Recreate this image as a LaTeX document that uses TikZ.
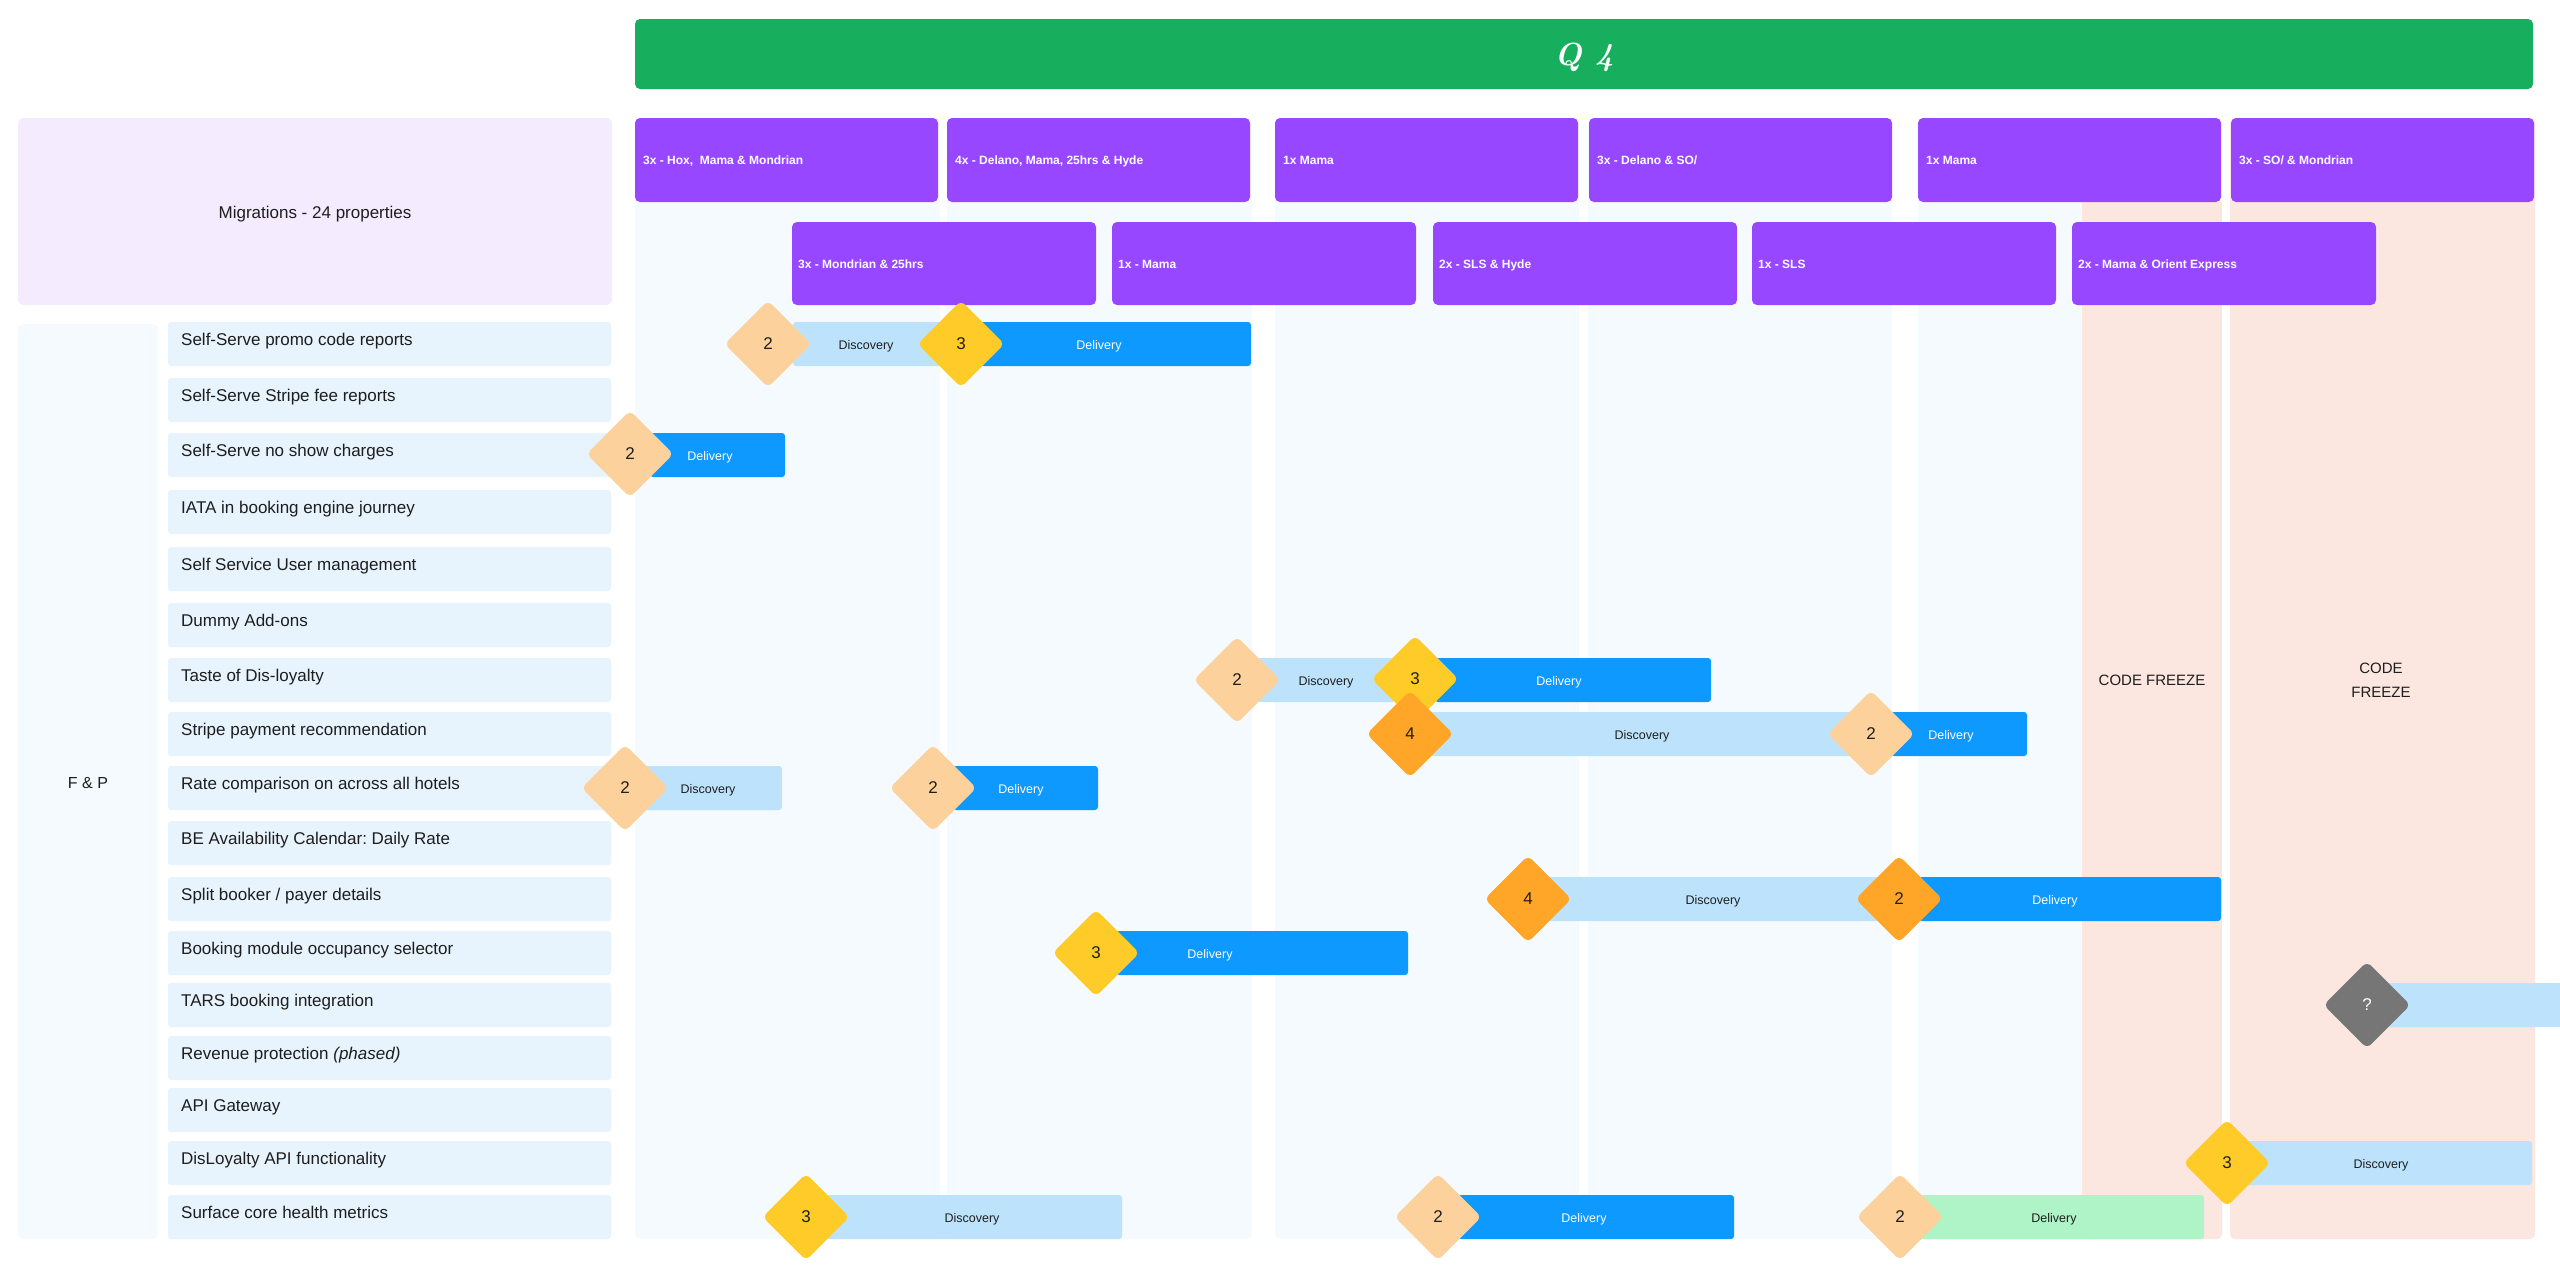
\documentclass[tikz,border=0pt]{standalone}
\usepackage{fontspec}
\setsansfont{Liberation Sans}
\usetikzlibrary{shapes.geometric}
\frenchspacing

\definecolor{qgreen}{HTML}{17AF5E}
\definecolor{hotel}{HTML}{9747FF}
\definecolor{lavender}{HTML}{F4EBFE}
\definecolor{rowblue}{HTML}{E7F3FD}
\definecolor{bandblue}{HTML}{F5FAFE}
\definecolor{freeze}{HTML}{FCE6E0}
\definecolor{discblue}{HTML}{BDE3FC}
\definecolor{delblue}{HTML}{0D99FF}
\definecolor{delgreen}{HTML}{AFF4C6}
\definecolor{peach}{HTML}{FCD19C}
\definecolor{gold}{HTML}{FFCB29}
\definecolor{amber}{HTML}{FFA629}
\definecolor{slate}{HTML}{767676}
\definecolor{ink}{HTML}{1E1E1E}

\tikzset{
  hotelbox/.style={fill=hotel, rounded corners=5pt},
  hoteltxt/.style={anchor=base west, text=white, font=\sffamily\bfseries\fontsize{12}{14}\selectfont},
  rowbox/.style={fill=rowblue, rounded corners=3pt, minimum width=443pt, minimum height=44pt},
  rowtxt/.style={anchor=base west, text=ink, font=\sffamily\fontsize{17}{20}\selectfont},
  bigtxt/.style={anchor=base, text=ink, font=\sffamily\fontsize{17}{20}\selectfont},
  disc/.style={fill=discblue, rounded corners=3pt},
  del/.style={fill=delblue, rounded corners=3pt},
  delg/.style={fill=delgreen, rounded corners=3pt},
  barlbl/.style={anchor=base, font=\sffamily\fontsize{12.5}{14}\selectfont},
  disclbl/.style={barlbl, text=ink},
  dellbl/.style={barlbl, text=white},
  delglbl/.style={barlbl, text=ink},
  ms/.style={diamond, aspect=1, minimum width=87pt, minimum height=87pt,
    rounded corners=6pt, text=ink, font=\sffamily\fontsize{17}{17}\selectfont},
}

% style, x from, x to, row top, text x, text
\newcommand{\ganttphase}[6]{%
  \fill[#1] (#2,#4) rectangle (#3,#4+44);
  \node[#1lbl] (#1-#4-#5) at (#5,#4+27) {#6};
}

\begin{document}
\begin{tikzpicture}[x=1pt,y=-1pt]
\tikzstyle{every node}+=[inner sep=0pt]
\useasboundingbox (0,0) rectangle (2560,1277);
\fill[white] (0,0) rectangle (2560,1277);

% sprint columns
\foreach \xa/\xb in {635/940, 947/1252, 1275/1579, 1588/1892, 1918/2222}
  \fill[bandblue, rounded corners=5pt] (\xa,118) rectangle (\xb,1239);
\fill[freeze] (2082,202) rectangle (2222,1234);
\fill[freeze, rounded corners=5pt] (2082,1200) rectangle (2222,1239);
\fill[freeze, rounded corners=5pt] (2230,118) rectangle (2535,1239);
\node[bigtxt, font=\sffamily\fontsize{15}{18}\selectfont] (cf1) at (2152,685) {CODE FREEZE};
\node[bigtxt, font=\sffamily\fontsize{15}{18}\selectfont] (cf2a) at (2381,673) {CODE};
\node[bigtxt, font=\sffamily\fontsize{15}{18}\selectfont] (cf2b) at (2381,697) {FREEZE};

% quarter header
\fill[qgreen, rounded corners=5pt] (635,19) rectangle (2533,89);
\node[anchor=base, text=white, font=\rmfamily\bfseries\itshape\fontsize{32}{32}\selectfont] (q4) at (1584,65) {Q 4};

% migrations
\fill[lavender, rounded corners=6pt] (18,118) rectangle (612,305);
\node[bigtxt] (mig) at (315,218) {Migrations - 24 properties};
\foreach \xa/\txt [count=\i] in {635/{3x - Hox,~ Mama \& Mondrian}, 947/{4x - Delano, Mama, 25hrs \& Hyde},
    1275/{1x Mama}, 1589/{3x - Delano \& SO/}, 1918/{1x Mama}, 2231/{3x - SO/ \& Mondrian}} {
  \fill[hotelbox] (\xa,118) rectangle (\xa+303,202);
  \node[hoteltxt] (wave\i) at (\xa+8,164) {\txt};
}
\foreach \xa/\txt [count=\i] in {792/{3x - Mondrian \& 25hrs}, 1112/{1x - Mama}, 1433/{2x - SLS \& Hyde},
    1752/{1x - SLS}, 2072/{2x - Mama \& Orient Express}} {
  \fill[hotelbox] (\xa,222) rectangle (\xa+304,305);
  \node[hoteltxt] (wavetwo\i) at (\xa+6,268) {\txt};
}

% team and initiatives
\fill[bandblue, rounded corners=6pt] (18,324) rectangle (158,1239);
\node[bigtxt, font=\sffamily\fontsize{16}{18}\selectfont] (team) at (88,788) {F \& P};
\foreach \top/\name [count=\i] in {322/Self-Serve promo code reports, 378/Self-Serve Stripe fee reports,
    433/Self-Serve no show charges, 490/IATA in booking engine journey, 547/Self Service User management,
    603/Dummy Add-ons, 658/Taste of Dis-loyalty, 712/Stripe payment recommendation,
    766/Rate comparison on across all hotels, 821/BE Availability Calendar: Daily Rate,
    877/{Split booker / payer details}, 931/Booking module occupancy selector, 983/TARS booking integration,
    1036/{Revenue protection \textit{(phased)}}, 1088/API Gateway, 1141/DisLoyalty API functionality,
    1195/Surface core health metrics} {
  \node[rowbox] (row\i) at (389.5,\top+22) {};
  \node[rowtxt] (rowtxt\i) at (181,\top+23) {\name};
}

% row 1
\ganttphase{disc}{793}{941}{322}{866}{Discovery}
\ganttphase{del}{981}{1251}{322}{1099}{Delivery}
\node[ms, fill=peach] (m1a) at (768,344) {2};
\node[ms, fill=gold] (m1b) at (961,344) {3};
% row 3
\ganttphase{del}{650}{785}{433}{710}{Delivery}
\node[ms, fill=peach] (m3a) at (630,454) {2};
% row 7
\ganttphase{disc}{1257}{1395}{658}{1326}{Discovery}
\ganttphase{del}{1435}{1711}{658}{1559}{Delivery}
\node[ms, fill=peach] (m7a) at (1237,680) {2};
\node[ms, fill=gold] (m7b) at (1415,679) {3};
% row 8
\ganttphase{disc}{1430}{1851}{712}{1642}{Discovery}
\ganttphase{del}{1891}{2027}{712}{1951}{Delivery}
\node[ms, fill=amber] (m8a) at (1410,734) {4};
\node[ms, fill=peach] (m8b) at (1871,734) {2};
% row 9
\ganttphase{disc}{645}{782}{766}{708}{Discovery}
\ganttphase{del}{953}{1098}{766}{1021}{Delivery}
\node[ms, fill=peach] (m9a) at (625,788) {2};
\node[ms, fill=peach] (m9b) at (933,788) {2};
% row 11
\ganttphase{disc}{1548}{1879}{877}{1713}{Discovery}
\ganttphase{del}{1919}{2221}{877}{2055}{Delivery}
\node[ms, fill=amber] (m11a) at (1528,899) {4};
\node[ms, fill=amber] (m11b) at (1899,899) {2};
% row 12
\ganttphase{del}{1116}{1408}{931}{1210}{Delivery}
\node[ms, fill=gold] (m12a) at (1096,953) {3};
% row 13
\ganttphase{disc}{2387}{2580}{983}{2470}{}
\node[ms, fill=slate, text=white] (m13a) at (2367,1005) {?};
% row 16
\ganttphase{disc}{2247}{2532}{1141}{2381}{Discovery}
\node[ms, fill=gold] (m16a) at (2227,1163) {3};
% row 17
\ganttphase{disc}{826}{1122}{1195}{972}{Discovery}
\ganttphase{del}{1458}{1734}{1195}{1584}{Delivery}
\ganttphase{delg}{1920}{2204}{1195}{2054}{Delivery}
\node[ms, fill=gold] (m17a) at (806,1217) {3};
\node[ms, fill=peach] (m17b) at (1438,1217) {2};
\node[ms, fill=peach] (m17c) at (1900,1217) {2};
\end{tikzpicture}
\end{document}
